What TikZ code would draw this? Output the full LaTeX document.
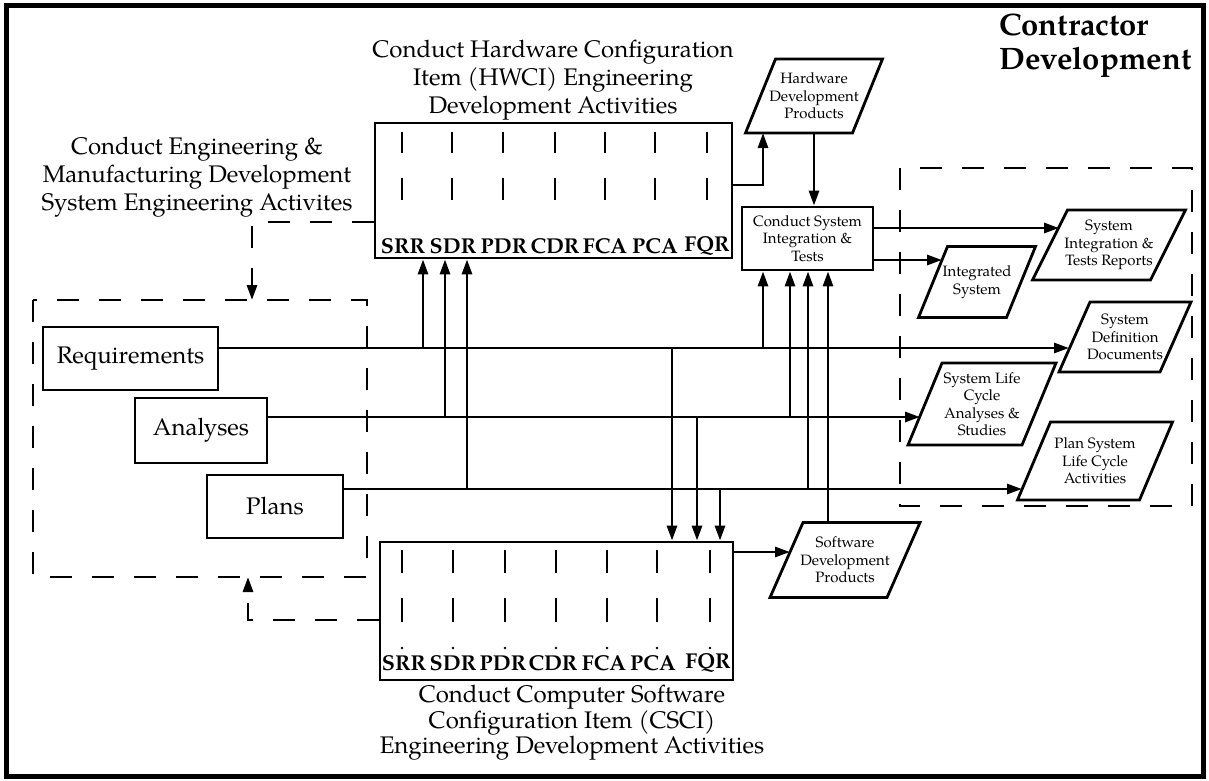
\documentclass[tikz,border=0pt]{standalone}
\usepackage{fontspec}
\setmainfont{TeX Gyre Pagella}
\usetikzlibrary{arrows.meta}
\newcommand{\paral}[7]{%
  \draw[pbox] ({#2-#4/2+#6/2},{#3-#5/2}) -- ({#2+#4/2+#6/2},{#3-#5/2}) -- ({#2+#4/2-#6/2},{#3+#5/2}) -- ({#2-#4/2-#6/2},{#3+#5/2}) -- cycle;
  \node[small] (#1) at (#2,#3) {#7};}
\begin{document}
\begin{tikzpicture}[x=1pt,y=-1pt,
  ln/.style={line width=2.8pt},
  arr/.style={line width=2.8pt,-{Triangle[length=15pt,width=10pt]}},
  dsh/.style={line width=2.8pt,dash pattern=on 22pt off 20pt},
  bx/.style={draw,line width=2.8pt,inner sep=0pt},
  pbox/.style={line width=2.8pt,line join=miter},
  big/.style={font=\fontsize{24}{28}\selectfont,align=center},
  small/.style={font=\fontsize{15}{17.5}\selectfont,align=center,inner sep=0pt},
  lab/.style={font=\fontsize{21.5}{21.5}\selectfont\bfseries,inner sep=0pt},
  tk/.style={line width=2.8pt}]
\useasboundingbox (0,0) rectangle (1209,781);
\fill[white] (0,0) rectangle (1209,781);
\draw[line width=5pt] (6,6) rectangle (1203,776);

% title
\node[font=\fontsize{31}{34}\selectfont\bfseries,align=left,anchor=north west,inner sep=0pt] (title) at (999,14) {Contractor\\Development};

% left label
\node[big] (lbl) at (197,177) {Conduct Engineering \&\\Manufacturing Development\\System Engineering Activites};

% HWCI
\node[big] (hwt) at (553,80) {Conduct Hardware Configuration\\Item (HWCI) Engineering\\Development Activities};
\node[bx,minimum width=357pt,minimum height=135pt] (hw) at (553.5,190.5) {};
\foreach \x in {402,452,503,555,605,655,707}{
  \draw[tk] (\x,132) -- (\x,153);
  \draw[tk] (\x,178) -- (\x,200);}
\node[lab] (h1) at (403,246) {SRR};
\node[lab] (h2) at (453,246) {SDR};
\node[lab] (h3) at (504,246) {PDR};
\node[lab] (h4) at (555,246) {CDR};
\node[lab] (h5) at (605,246) {FCA};
\node[lab] (h6) at (655,246) {PCA};
\node[lab] (h7) at (707,246) {FQR};

% CSCI
\node[bx,minimum width=353pt,minimum height=138pt] (cs) at (556.5,611) {};
\foreach \x in {402,453,505,556,607,657,710}{
  \draw[tk] (\x,550) -- (\x,573);
  \draw[tk] (\x,598) -- (\x,622);
  \fill (\x,648) circle (1.4pt);}
\node[lab] (c1) at (404,663) {SRR};
\node[lab] (c2) at (453,663) {SDR};
\node[lab] (c3) at (503,663) {PDR};
\node[lab] (c4) at (553,663) {CDR};
\node[lab] (c5) at (604,663) {FCA};
\node[lab] (c6) at (653,663) {PCA};
\node[lab] (c7) at (708,663) {FQR};
\node[big,font=\fontsize{24}{25.5}\selectfont] (cst) at (572,723) {Conduct Computer Software\\Configuration Item (CSCI)\\Engineering Development Activities};

% left group
\draw[dsh] (33,300) rectangle (367,577);
\node[bx,big,minimum width=175pt,minimum height=63pt] (req) at (130.5,358.5) {Requirements};
\node[bx,big,minimum width=132pt,minimum height=65pt] (ana) at (201,430.5) {Analyses};
\node[bx,big,minimum width=136pt,minimum height=63pt] (pla) at (275,506.5) {Plans};

% system integration box
\node[bx,small,minimum width=131pt,minimum height=63pt] (csit) at (807.5,238.5) {Conduct System\\Integration \&\\Tests};

% right group
\draw[dsh] (900,168) rectangle (1192,506);
\paral{hwp}{814}{96}{107}{74}{30}{Hardware\\Development\\Products}
\paral{sitr}{1109}{245}{118}{70}{35}{System\\Integration \&\\Tests Reports}
\paral{isys}{977}{282}{88}{71}{29}{Integrated\\System}
\paral{sdd}{1125}{337}{101}{70}{31}{System\\Definition\\Documents}
\paral{slc}{982}{404}{114}{82}{34}{System Life\\Cycle\\Analyses \&\\Studies}
\paral{pslc}{1095}{461}{122}{78}{33}{Plan System\\Life Cycle\\Activities}
\paral{sdp}{845}{560}{117}{75}{33}{Software\\Development\\Products}

% named end points
\coordinate (reqE) at (218,348);
\coordinate (anaE) at (267,417);
\coordinate (plaE) at (343,489);
\coordinate (sddW) at (1069,348);
\coordinate (slcW) at (920,417);
\coordinate (pslcW) at (1022,489);

% buses
\draw[arr] (reqE) -- (sddW);
\draw[arr] (anaE) -- (slcW);
\draw[arr] (plaE) -- (pslcW);

% into HWCI
\draw[arr] (423,348) -- (hw.south -| 423,0);
\draw[arr] (445,417) -- (hw.south -| 445,0);
\draw[arr] (467,489) -- (hw.south -| 467,0);
% into CSCI
\draw[arr] (672,348) -- (cs.north -| 672,0);
\draw[arr] (697,417) -- (cs.north -| 697,0);
\draw[arr] (720,489) -- (cs.north -| 720,0);
% into system integration
\draw[arr] (763,348) -- (csit.south -| 763,0);
\draw[arr] (790,417) -- (csit.south -| 790,0);
\draw[arr] (808,489) -- (csit.south -| 808,0);
\draw[arr] (828,523) -- (csit.south -| 828,0);

% HW products
\draw[arr] (hw.east |- 0,185) -- (763,185) -- (763,133);
\draw[arr] (814,133) -- (csit.north -| 814,0);
% outputs
\draw[arr] (csit.east |- 0,228) -- (1059,228);
\draw[arr] (csit.east |- 0,260) -- (942,260);
\draw[arr] (cs.east |- 0,552) -- (790,552);

% dashed feedback
\draw[dsh,-{Triangle[length=15pt,width=10pt]}] (hw.west |- 0,222) -- (252,222) -- (252,300);
\draw[dsh,-{Triangle[length=15pt,width=10pt]}] (cs.west |- 0,620) -- (248,620) -- (248,577);
\end{tikzpicture}
\end{document}
